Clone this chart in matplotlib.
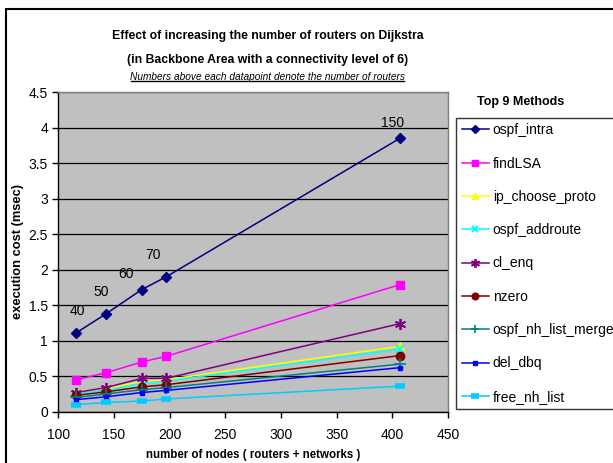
import matplotlib
matplotlib.use("Agg")
import matplotlib.pyplot as plt
from matplotlib.patches import Rectangle

plt.rcParams['font.family'] = ['Liberation Sans', 'DejaVu Sans']

nodes = [116, 143, 175, 197, 407]
routers = ["40", "50", "60", "70", "150"]

methods = ["ospf_intra", "findLSA", "ip_choose_proto", "ospf_addroute", "cl_enq",
           "nzero", "ospf_nh_list_merge", "del_dbq", "free_nh_list"]

ospf_intra = [1.11, 1.38, 1.72, 1.90, 3.85]
findLSA = [0.45, 0.55, 0.70, 0.78, 1.79]
ip_choose_proto = [0.28, 0.33, 0.42, 0.45, 0.92]
ospf_addroute = [0.25, 0.30, 0.40, 0.43, 0.88]
cl_enq = [0.27, 0.34, 0.47, 0.47, 1.24]
nzero = [0.23, 0.28, 0.35, 0.38, 0.79]
ospf_nh_list_merge = [0.20, 0.25, 0.31, 0.34, 0.67]
del_dbq = [0.17, 0.21, 0.27, 0.30, 0.62]
free_nh_list = [0.10, 0.13, 0.15, 0.18, 0.36]

series = [ospf_intra, findLSA, ip_choose_proto, ospf_addroute, cl_enq,
          nzero, ospf_nh_list_merge, del_dbq, free_nh_list]

styles = [
    dict(color='#000080', marker='D', ms=5),
    dict(color='#FF00FF', marker='s', ms=6),
    dict(color='#FFFF00', marker='^', ms=6),
    dict(color='#00FFFF', marker='x', ms=6, mew=1.5),
    dict(color='#800080', marker=(6, 2, 0), ms=8, mew=1.3),
    dict(color='#800000', marker='o', ms=6),
    dict(color='#008080', marker='+', ms=8, mew=1.2),
    dict(color='#0000FF', marker='s', ms=3.5),
    dict(color='#00CCFF', marker='_', ms=7, mew=4),
]

# label offsets (pixels) for router-count annotations
label_offsets = [(1, 22), (-5, 22), (-16, 16), (-13, 22), (-8, 15)]

W, H = 613, 463
fig = plt.figure(figsize=(W / 100, H / 100), dpi=100)
fig.patch.set_facecolor('white')

# outer chart border
fig.add_artist(Rectangle((6 / W, -0.05), 1.0, 1 - 9 / H + 0.05, transform=fig.transFigure,
                         fill=False, edgecolor='black', lw=1.5))

ax = fig.add_axes([58.4 / W, 1 - 411.7 / H, (448 - 58.4) / W, (411.7 - 92) / H])
ax.set_facecolor('#C0C0C0')

handles = []
for name, vals, st in zip(methods, series, styles):
    h, = ax.plot(nodes, vals, lw=1.1, label=name, zorder=3, **st)
    handles.append(h)

for x, y, txt, (dx, dy) in zip(nodes, ospf_intra, routers, label_offsets):
    ax.annotate(txt, (x, y), xytext=(dx * 0.72, dy * 0.72), textcoords='offset points',
                ha='center', va='center', fontsize=10, color='black', zorder=4)

ax.set_xlim(100, 450)
ax.set_ylim(0, 4.5)
ax.set_xticks(range(100, 451, 50))
ax.set_yticks([0, 0.5, 1, 1.5, 2, 2.5, 3, 3.5, 4, 4.5])
ax.set_yticklabels(['0', '0.5', '1', '1.5', '2', '2.5', '3', '3.5', '4', '4.5'])
ax.grid(axis='y', color='black', lw=0.9, zorder=1)
ax.set_axisbelow(True)
ax.tick_params(direction='out', length=4, width=1, labelsize=10, color='black')
ax.tick_params(axis='x', pad=8)
for s in ['left', 'bottom']:
    ax.spines[s].set_color('black')
    ax.spines[s].set_linewidth(1)
for s in ['top', 'right']:
    ax.spines[s].set_color('#808080')
    ax.spines[s].set_linewidth(1)

ax.set_ylabel('execution cost (msec)', fontsize=9.3, fontweight='bold', labelpad=3)
ax.set_xlabel('number of nodes ( routers + networks )', fontsize=8.3, fontweight='bold', labelpad=5)

fig.text(0.5 * (115 + 421) / W, 1 - 36 / H, 'Effect of increasing the number of routers on Dijkstra',
         ha='center', va='center', fontsize=8.8, fontweight='bold')
fig.text(0.5 * (115 + 421) / W, 1 - 60 / H, '(in Backbone Area with a connectivity level of 6)',
         ha='center', va='center', fontsize=8.8, fontweight='bold')
sub = fig.text(0.5 * (131 + 404) / W, 1 - 76.5 / H, 'Numbers above each datapoint denote the number of routers',
               ha='center', va='center', fontsize=7.3, style='italic')
fig.add_artist(plt.Line2D([131 / W, 404 / W], [1 - 81 / H, 1 - 81 / H], color='black', lw=1.0))

fig.text(521 / W, 1 - 102 / H, 'Top 9 Methods', ha='center', va='center', fontsize=9, fontweight='bold')

leg = fig.legend(handles=handles, loc='upper left', bbox_to_anchor=(456 / W, 1 - 117.7 / H),
                 bbox_transform=fig.transFigure, frameon=True, fancybox=False,
                 edgecolor='black', fontsize=10, labelspacing=1.39, handlelength=2.0,
                 handletextpad=0.25, borderpad=0.4, borderaxespad=0, numpoints=1,
                 markerscale=0.8)
leg.get_frame().set_linewidth(1.0)

fig.savefig('out.png', dpi=100)
